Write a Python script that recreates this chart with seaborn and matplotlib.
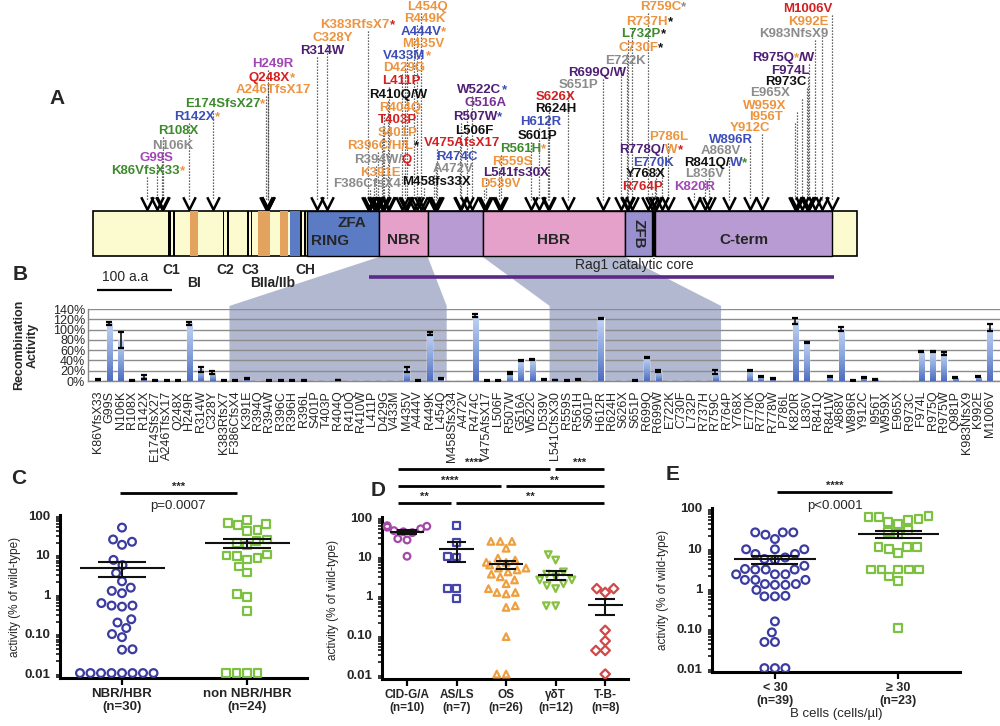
import numpy as np
import pandas as pd
import seaborn as sns
import matplotlib.pyplot as plt
from matplotlib.patches import Polygon, Rectangle
from matplotlib.path import Path
from matplotlib.ticker import LogLocator, NullFormatter
from matplotlib.colors import LinearSegmentedColormap
from matplotlib import transforms

# ---------------- data ----------------
# panel A: mutations on the RAG1 protein (aa position), label text pieces and colours
G, GR, MG, BL = "#3e8a2e", "#8c8c8c", "#a046b4", "#3d4eb8"
OR, RD, DP, PU, K = "#ec9440", "#d42020", "#4e1f73", "#7a2f96", "#111111"

mut_labels = [
    [("K86VfsX33", G), ("*", OR)], [("G99S", MG)], [("N106K", GR)], [("R108X", G)],
    [("R142X", BL), ("*", OR)], [("E174SfsX27", G), ("*", OR)], [("A246TfsX17", OR)],
    [("Q248X", RD), ("*", OR)], [("H249R", MG)], [("R314W", DP)], [("C328Y", OR)],
    [("K383RfsX7", OR), ("*", RD)], [("F386CfsX4", GR)], [("K391E", OR)],
    [("R394W/", GR), ("Q", RD)], [("R396C/H/L", OR), ("*", K)], [("S401P", OR)],
    [("T403P", RD)], [("R404Q", OR)], [("R410Q/W", K)], [("L411P", RD)], [("D429G", OR)],
    [("V433M", BL), ("*", OR)], [("M435V", OR)], [("A444V", BL), ("*", OR)], [("R449K", OR)],
    [("L454Q", OR)], [("M458fs33X", K)], [("A472V", GR)], [("R474C", BL)],
    [("V475AfsX17", RD)], [("L506F", K)], [("R507W", DP), ("*", BL)], [("G516A", PU)],
    [("W522C", DP), ("*", BL)], [("D539V", OR)], [("L541fs30X", DP)], [("R559S", OR)],
    [("R561H", G), ("*", OR)], [("S601P", K)], [("H612R", BL)], [("R624H", K)],
    [("S626X", RD)], [("S651P", GR)], [("R699Q/W", DP)], [("E722K", GR)],
    [("C730F", OR), ("*", K)], [("L732P", G), ("*", K)], [("R737H", OR), ("*", K)],
    [("R759C", OR), ("*", GR)], [("R764P", RD)], [("Y768X", K)], [("E770K", BL)],
    [("R778Q/", DP), ("W", OR), ("*", RD)], [("P786L", OR)], [("K820R", MG)], [("L836V", GR)],
    [("R841Q/", K), ("W", BL), ("*", G)], [("A868V", GR)], [("W896R", BL)], [("Y912C", OR)],
    [("I956T", OR)], [("W959X", OR)], [("E965X", GR)], [("R973C", K)], [("F974L", DP)],
    [("R975Q", DP), ("*", OR), ("/W", DP)], [("K983NfsX9", GR)], [("K992E", OR)],
    [("M1006V", RD)],
]
mut_pos = [86, 99, 106, 108, 142, 174, 246, 248, 249, 314, 328, 383, 386, 391, 394, 396,
           401, 403, 404, 410, 411, 429, 433, 435, 444, 449, 454, 458, 472, 474, 475, 506,
           507, 516, 522, 539, 541, 559, 561, 601, 612, 624, 626, 651, 699, 722, 730, 732,
           737, 759, 764, 768, 770, 778, 786, 820, 836, 841, 868, 896, 912, 956, 959, 965,
           973, 974, 975, 983, 992, 1006]

# label layout (centre in aa units, row height in px from top)
label_aa = [87, 99, 121, 128, 153, 191, 255, 254, 255, 321, 336, 369, 381, 399, 403, 403,
            423, 423, 426, 423, 428, 432, 435, 457, 457, 459, 463, 475, 497, 502, 509, 526,
            530, 540, 536, 560, 582, 577, 591, 611, 615, 635, 635, 665, 690, 729, 749, 753,
            761, 779, 752, 756, 766, 763, 787, 821, 835, 850, 857, 870, 896, 917, 916, 923,
            944, 950, 941, 954, 974, 974]
label_y = [171, 158, 146, 131, 117, 104, 90, 78, 64, 51, 38, 25, 184, 173, 160, 146, 133,
           120, 108, 95, 81, 68, 56, 44, 32, 19, 7, 182, 169, 157, 143, 131, 117, 103, 90,
           184, 173, 162, 149, 136, 122, 109, 97, 85, 73, 61, 48, 34, 22, 7, 187, 174, 163,
           150, 137, 187, 174, 163, 151, 140, 128, 117, 106, 93, 82, 71, 58, 34, 22, 9]

# protein domains (aa start, aa end, colour)
YEL, ORA, BLU = "#fcfbcf", "#e3a35f", "#5b7cc4"
PNK, LIL, VIO = "#e6a1cb", "#b89bd3", "#9a8fcf"
protein_span = (13, 1040)
domains = [
    (114.6, 117.7, "black"), (120.4, 123.5, "black"), (143.7, 154.8, ORA),
    (187.5, 189.5, "black"), (193.0, 195.6, "black"), (220.7, 222.5, "black"),
    (225.2, 227.0, "black"), (235.4, 251.1, ORA), (264.6, 275.7, ORA), (278.0, 291.4, BLU),
    (291.4, 293.7, "black"), (296.8, 299.5, "black"), (300.4, 397.5, BLU),
    (397.5, 463.0, PNK), (463.0, 537.0, LIL), (537.0, 728.0, PNK), (728.0, 764.0, VIO),
    (764.0, 768.0, "black"), (768.0, 1006.0, LIL),
]
motif_names = ["C1", "BI", "C2", "C3", "BIIa/IIb", "CH"]
motif_pos = [119, 149, 191, 224, 255, 298]
motif_row = [270, 283, 270, 270, 283, 270]
core_span = (384, 1008)

# panel B: recombination activity (% of wild type)
b_mutations = ["K86VfsX33", "G99S", "N106K", "R108X", "R142X", "E174SfsX27", "A246TfsX17",
               "Q248X", "H249R", "R314W", "C328Y", "K383RfsX7", "F386CfsX4", "K391E", "R394Q",
               "R394W", "R396C", "R396H", "R396L", "S401P", "T403P", "R404Q", "R410Q", "R410W",
               "L411P", "D429G", "V433M", "M435V", "A444V", "R449K", "L454Q", "M458SfsX34",
               "A472V", "R474C", "V475AfsX17", "L506F", "R507W", "G516A", "W522C", "D539V",
               "L541CfsX30", "R559S", "R561H", "S601P", "H612R", "R624H", "S626X", "S651P",
               "R699Q", "R699W", "E722K", "C730F", "L732P", "R737H", "R759C", "R764P", "Y768X",
               "E770K", "R778Q", "R778W", "P786L", "K820R", "L836V", "R841Q", "R841W", "A868V",
               "W896R", "Y912C", "I956T", "W959X", "E965X", "R973C", "F974L", "R975Q", "R975W",
               "Q981P", "K983NfsX9", "K992E", "M1006V"]
b_activity = [3, 112, 80, 1.5, 8, 1, 1, 1.5, 112, 23, 16, 0.5, 0.5, 5.5, 0, 0.5, 1.5, 1.5,
              0.5, 0, 0, 2, 0, 0, 0, 0, 0, 23, 1.5, 92, 5.5, 0, 0, 127, 1, 1.3, 16, 40, 42,
              3, 2, 1.5, 2.5, 0, 122, 0, 0, 1, 45.5, 19.5, 0, 0, 0, 0, 17.5, 0, 0, 21, 8.5,
              4.5, 0, 117, 75, 0, 9, 101, 1, 6, 3.5, 0, 0, 0, 57, 57, 54, 6.5, 0, 8.5, 104]
b_error = [0.5, 3.5, 16, 0, 4.5, 0, 0, 0, 3, 5, 3, 0, 0, 1, 0, 0, 0, 0, 0, 0, 0, 0, 0, 0,
           0, 0, 0, 5, 0, 3, 1, 0, 0, 3, 0, 0, 1.5, 1, 1.5, 0.5, 0, 0, 0, 0, 1, 0, 0, 0,
           1.5, 2, 0, 0, 0, 0, 3, 0, 0, 1, 1, 1, 0, 6, 1, 0, 1.5, 4, 0, 1, 0.5, 0, 0, 0, 1,
           1.5, 3, 1, 0, 1.5, 6]
nbr_range = ("F386CfsX4", "L454Q")
hbr_range = ("L541CfsX30", "R759C")

# panel C
c_groups = ["NBR/HBR", "non NBR/HBR"]
c_nbr = [48, 24, 17.6, 21, 7.3, 5.4, 3.4, 2.1, 1.45, 1.2, 1.05, 0.51, 0.48, 0.51, 0.59, 0.23,
         0.19, 0.138, 0.097, 0.081, 0.040, 0.039, 0.01, 0.01, 0.01, 0.01, 0.01, 0.01, 0.01, 0.01]
c_non = [75, 63, 55, 60, 42, 40, 24, 20, 17, 22, 10, 9.5, 8, 7.5, 9, 5, 3.5, 0.85, 1.0, 0.38,
         0.01, 0.01, 0.01, 0.01]

# panel D
d_groups = ["CID-G/A", "AS/LS", "OS", "γδT", "T-B-"]
d_cid = [60, 55, 50, 58, 45, 42, 40, 28, 26, 10]
d_asls = [60, 22, 10, 9.5, 1.5, 1.5, 0.85]
d_os = [24, 24, 24, 16, 9, 8, 7, 7, 6, 5, 5, 4.5, 4, 3.5, 3, 2.5, 2, 1.5, 1.2, 1.2, 1.1,
        0.55, 0.5, 0.09, 0.01, 0.01]
d_gdt = [11, 8, 4, 3.5, 3, 2.5, 2.5, 2, 1.8, 1.5, 0.55, 0.55]
d_tb = [1.5, 1.5, 1.2, 0.13, 0.07, 0.04, 0.04, 0.01]
d_brackets = [(0, 1, "**"), (1, 4, "**"), (0, 2, "****"), (2, 4, "**"), (0, 3, "****"), (3, 4, "***")]

# panel E
e_groups = ["< 30", "≥ 30"]
e_low = [24.6, 16.8, 21.5, 24.6, 24.6, 9.3, 9.3, 9.3, 7.1, 7.1, 5.3, 5.1, 5.8, 3.6, 3.0, 2.9,
         2.2, 2.9, 2.9, 2.2, 2.2, 1.6, 1.2, 0.9, 1.2, 1.26, 1.26, 1.6, 1.6, 0.62, 0.62, 0.64,
         0.147, 0.078, 0.045, 0.045, 0.01, 0.01, 0.01]
e_high = [60, 52, 50, 60, 62, 45, 40, 28, 25, 22, 10.5, 9.5, 7.5, 10.5, 10.5, 2.9, 2.9, 2.9,
          2.9, 2.9, 1.95, 1.47, 0.1]

# ---------------- style ----------------
sns.set_style("white")
plt.rcParams['font.family'] = ['Liberation Sans', 'DejaVu Sans']
NARROW = ['Liberation Sans Narrow', 'Liberation Sans', 'DejaVu Sans']

W, H = 1000, 726
fig = plt.figure(figsize=(10, 7.26), dpi=100)


def box(l, t, r, b):
    return [l / W, 1 - b / H, (r - l) / W, (b - t) / H]


def letter(x, y, s):
    fig.text(x / W, 1 - y / H, s, ha='center', va='center', fontsize=15, fontweight='bold')


# ---------------- panel A ----------------
A_H = 300
ax_a = fig.add_axes([0, 1 - A_H / H, 1, A_H / H])
ax_a.set_xlim((0 - 83) / 0.7446, (1000 - 83) / 0.7446)
ax_a.set_ylim(A_H, 0)
ax_a.axis('off')
ax_a.patch.set_alpha(0)

bar_top, bar_bot = 211, 256
ax_a.add_patch(Rectangle((protein_span[0], bar_top), protein_span[1] - protein_span[0],
                         bar_bot - bar_top, facecolor=YEL, edgecolor='black', lw=1.2, zorder=2))
for s, e, c in domains:
    edge = 'black' if e - s > 20 else 'none'
    ax_a.add_patch(Rectangle((s, bar_top), e - s, bar_bot - bar_top, facecolor=c,
                             edgecolor=edge, lw=1.0, zorder=3))

dom_kw = dict(fontsize=11, fontweight='bold', family=NARROW, va='center', ha='center', zorder=4)
ax_a.text(361, 223, "ZFA", **dom_kw)
ax_a.text(332, 241, "RING", **dom_kw)
ax_a.text(430, 240, "NBR", **dom_kw)
ax_a.text(632, 240, "HBR", **dom_kw)
ax_a.text(746, 234, "ZFB", rotation=-90, **dom_kw)
ax_a.text(887, 240, "C-term", **dom_kw)

for name, p, yy in zip(motif_names, motif_pos, motif_row):
    ax_a.text(p, yy, name, fontsize=10, fontweight='bold', family=NARROW, ha='center', va='center')

ax_a.plot([19, 119], [290, 290], color='black', lw=1.6, solid_capstyle='butt')
ax_a.text(25, 277, "100 a.a", fontsize=10, family=NARROW, ha='left', va='center')
ax_a.plot(core_span, [277, 277], color="#5b2a86", lw=2.6, solid_capstyle='butt')
ax_a.text(740, 265, "Rag1 catalytic core", fontsize=10, family=NARROW, ha='center', va='center')

# dotted leaders and V arrowheads
ax_a.vlines(mut_pos, np.array(label_y) + 6, 200, colors='#333333', lw=0.9,
            linestyles=(0, (1, 1.4)), zorder=1)
vpath = Path([(-1, 1), (0, -1), (1, 1)], [Path.MOVETO, Path.LINETO, Path.LINETO])
ax_a.plot(mut_pos, [203] * len(mut_pos), linestyle='none', marker=vpath, markersize=9,
          markerfacecolor='none', markeredgecolor='black', markeredgewidth=1.8, zorder=2)

renderer = fig.canvas.get_renderer()
lab_kw = dict(fontsize=9.5, fontweight='bold', family=NARROW)
for segs, lx, ly in zip(mut_labels, label_aa, label_y):
    widths = []
    for txt, col in segs:
        t = ax_a.text(0, 0, txt, **lab_kw)
        widths.append(t.get_window_extent(renderer).width)
        t.remove()
    off = -sum(widths) / 2
    for (txt, col), w in zip(segs, widths):
        tr = transforms.offset_copy(ax_a.transData, fig=fig, x=off, y=0, units='dots')
        ax_a.text(lx, ly, txt, color=col, transform=tr, ha='left', va='center', zorder=5, **lab_kw)
        off += w

letter(57, 98, "A")

# ---------------- panel B ----------------
ax_b = fig.add_axes(box(88, 309, 1000, 381))
ax_b.patch.set_alpha(0)
dfb = pd.DataFrame({'mutation': b_mutations, 'activity': b_activity, 'err': b_error})
sns.barplot(data=dfb, x='mutation', y='activity', order=b_mutations, color='#7f9edb',
            saturation=1, width=0.45, errorbar=None, ax=ax_b, zorder=3)
# excel-like vertical gradient inside each bar
bar_cmap = LinearSegmentedColormap.from_list("bars", ["#c3d3f3", "#8aa6de", "#4f6dbd"])
grad = np.linspace(0, 1, 64).reshape(-1, 1)
for patch in list(ax_b.patches):
    x0, w, h = patch.get_x(), patch.get_width(), patch.get_height()
    if h <= 0:
        continue
    im = ax_b.imshow(grad, extent=(x0, x0 + w, 0, h), aspect='auto', cmap=bar_cmap,
                     origin='upper', zorder=3, interpolation='bilinear')
    im.set_clip_path(patch)
    patch.set_facecolor('none')
has = dfb['activity'] > 0
ax_b.errorbar(np.arange(len(dfb))[has], dfb['activity'][has],
              yerr=np.maximum(dfb['err'][has], 0.6), fmt='none', ecolor='black',
              elinewidth=1.1, capsize=2.4, capthick=1.6, zorder=4)
ax_b.set_aspect('auto')
ax_b.set_xlim(-0.875, 78.9)
ax_b.set_ylim(0, 140)
ax_b.set_yticks(range(0, 141, 20))
ax_b.set_yticklabels([f"{v}%" for v in range(0, 141, 20)], fontsize=9, family=NARROW)
ax_b.set_xticks(range(len(b_mutations)))
ax_b.set_xticklabels(b_mutations, rotation=90, fontsize=9, family=NARROW)
ax_b.set_xticks(np.arange(-0.5, len(b_mutations), 1), minor=True)
ax_b.tick_params(axis='x', which='major', length=0, pad=7)
ax_b.tick_params(axis='x', which='minor', length=4, color='#888888', width=1)
ax_b.tick_params(axis='y', length=0, pad=2)
ax_b.grid(axis='y', color='#8c8c8c', lw=1)
ax_b.set_axisbelow(True)
ax_b.set_xlabel('')
ax_b.set_ylabel('')
for side in ['top', 'right']:
    ax_b.spines[side].set_visible(False)
for side in ['left', 'bottom']:
    ax_b.spines[side].set_color('#888888')
    ax_b.spines[side].set_linewidth(1)
fig.text(26 / W, 1 - 345 / H, "Recombination\nActivity", rotation=90, ha='center', va='center',
         fontsize=9, fontweight='bold', linespacing=1.2)
letter(20, 275, "B")

# shaded links between domains and their mutations
inv = fig.transFigure.inverted()


def fpt(ax, x, y):
    return inv.transform(ax.transData.transform((x, y)))


for (d0, d1), (m0, m1) in [((397.5, 463.0), nbr_range), ((537.0, 728.0), hbr_range)]:
    i0 = b_mutations.index(m0) - 0.5
    i1 = b_mutations.index(m1) + 0.5
    pts = [fpt(ax_a, d0, bar_bot + 1), fpt(ax_a, d1, bar_bot + 1), fpt(ax_b, i1, 146),
           fpt(ax_b, i1, 0), fpt(ax_b, i0, 0), fpt(ax_b, i0, 146)]
    fig.add_artist(Polygon(pts, closed=True, transform=fig.transFigure, facecolor='#a9b1cb',
                           edgecolor='none', alpha=0.9, zorder=-1))


# ---------------- panels C, D, E ----------------
def dot_panel(ax, groups, samples, colors, markers, ticklabels, size, mean_w, sem_w, low, tfs):
    df = pd.DataFrame({'group': np.repeat(groups, [len(s) for s in samples]),
                       'value': np.concatenate(samples)})
    for g, c, m in zip(groups, colors, markers):
        n0 = len(ax.collections)
        sns.swarmplot(data=df[df['group'] == g], x='group', y='value', order=groups, color=c,
                      marker=m, size=size, log_scale=True, ax=ax)
        for coll in ax.collections[n0:]:
            coll.set_facecolor('none')
            coll.set_edgecolor(c)
            coll.set_linewidth(1.6)
    for i, s in enumerate(samples):
        m = np.mean(s)
        se = np.std(s, ddof=1) / np.sqrt(len(s))
        ax.hlines(m, i - mean_w, i + mean_w, color='#111111', lw=1.5, zorder=5)
        ax.hlines([m - se, m + se], i - sem_w, i + sem_w, color='#111111', lw=1.5, zorder=5)
        ax.vlines(i, m - se, m + se, color='#111111', lw=1.5, zorder=5)
    ax.set_ylim(low, 100)
    ax.set_yticks([0.01, 0.1, 1, 10, 100])
    ax.set_yticklabels(['0.01', '0.10', '1', '10', '100'], fontweight='bold', fontsize=9.5)
    ax.yaxis.set_minor_locator(LogLocator(base=10, subs=np.arange(2, 10)))
    ax.yaxis.set_minor_formatter(NullFormatter())
    ax.set_xticks(range(len(groups)))
    ax.set_xticklabels(ticklabels, fontweight='bold', fontsize=tfs, linespacing=1.15)
    ax.tick_params(axis='both', which='major', length=5, width=1.6, color='black',
                   direction='out', pad=2)
    ax.tick_params(axis='y', which='minor', length=3, width=1.1, color='black', left=True)
    ax.tick_params(axis='x', bottom=True)
    ax.set_xlabel('')
    ax.set_ylabel('')
    sns.despine(ax=ax)
    for side in ['left', 'bottom']:
        ax.spines[side].set_linewidth(2.2)
        ax.spines[side].set_color('black')


def bracket(ax, x0, x1, y, stars, ptxt=None, py=None):
    tr = transforms.blended_transform_factory(ax.transData, ax.transAxes)
    ax.plot([x0, x1], [y, y], color='black', lw=2, transform=tr, clip_on=False,
            solid_capstyle='butt')
    ax.text((x0 + x1) / 2, y + 0.005, stars, transform=tr, ha='center', va='bottom',
            fontsize=8, fontweight='bold')
    if ptxt:
        ax.text((x0 + x1) / 2, py, ptxt, transform=tr, ha='center', va='center', fontsize=9.5)


ax_c = fig.add_axes(box(60, 515, 307, 678))
ax_c.patch.set_alpha(0)
dot_panel(ax_c, c_groups, [c_nbr, c_non], ["#3b3ba0", "#7dc142"], ['o', 's'],
          [f"{g}\n(n={len(s)})" for g, s in zip(c_groups, [c_nbr, c_non])],
          5.6, 0.34, 0.19, 0.0075, 9.5)
ax_c.set_xlim(-0.496, 1.48)
bracket(ax_c, -0.02, 0.92, 1.135, "***", "p=0.0007", 1.055)
fig.text(15 / W, 1 - 597 / H, "activity (% of wild-type)", rotation=90, ha='center',
         va='center', fontsize=8.5)
letter(19, 478, "C")

ax_d = fig.add_axes(box(382, 517, 628, 679))
ax_d.patch.set_alpha(0)
d_samples = [d_cid, d_asls, d_os, d_gdt, d_tb]
dot_panel(ax_d, d_groups, d_samples, ["#a449a8", "#4444aa", "#eea040", "#86c240", "#d04848"],
          ['o', 's', '^', 'v', 'D'],
          [f"{g}\n(n={len(s)})" for g, s in zip(d_groups, d_samples)],
          4.8, 0.35, 0.2, 0.0075, 8.5)
ax_d.set_xlim(-0.505, 4.46)
rows = [1.086, 1.086, 1.19, 1.19, 1.296, 1.296]
for (i, j, st), yy in zip(d_brackets, rows):
    x0 = i - 0.18 if i == 0 else i - 0.01
    x1 = j - 0.11 if j < 4 else j - 0.03
    bracket(ax_d, x0, x1, yy, st)
fig.text(333 / W, 1 - 600 / H, "activity (% of wild-type)", rotation=90, ha='center',
         va='center', fontsize=8.5)
letter(378, 490, "D")

ax_e = fig.add_axes(box(712, 508, 960, 672))
ax_e.patch.set_alpha(0)
dot_panel(ax_e, e_groups, [e_low, e_high], ["#3b3ba0", "#7dc142"], ['o', 's'],
          [f"{g}\n(n={len(s)})" for g, s in zip(e_groups, [e_low, e_high])],
          5.6, 0.33, 0.19, 0.008, 9)
ax_e.set_xlim(-0.51, 1.5)
bracket(ax_e, 0.02, 0.95, 1.098, "****", "p<0.0001", 1.015)
ax_e.set_xlabel("B cells (cells/µl)", fontsize=9.5, labelpad=1)
fig.text(663 / W, 1 - 590 / H, "activity (% of wild-type)", rotation=90, ha='center',
         va='center', fontsize=8.5)
letter(673, 475, "E")

fig.savefig("out.png", dpi=100)
